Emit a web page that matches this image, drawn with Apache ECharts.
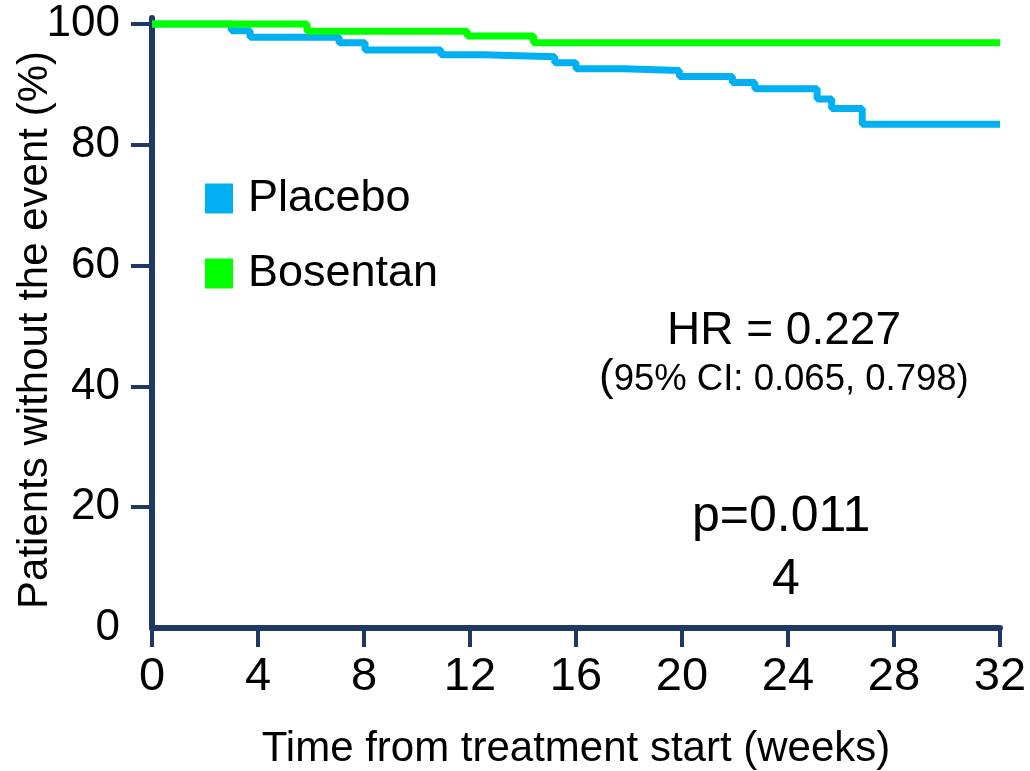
<!DOCTYPE html>
<html>
<head>
<meta charset="utf-8">
<script src="https://cdn.jsdelivr.net/npm/echarts@6/dist/echarts.min.js"></script>
<style>
html,body{margin:0;padding:0;background:#fff;}
#main{width:1030px;height:771px;}
</style>
</head>
<body>
<div id="main"></div>
<script>
// Kaplan-Meier step points: [week, % without event]
const placeboPoints = [[0,100],[3.0,98.9],[3.7,97.8],[7.06,96.9],[8.04,95.7],[10.9,94.9],[12.5,94.6],[15.2,93.6],[16.0,92.6],[17.8,92.3],[19.9,91.3],[21.9,90.3],[22.75,89.3],[25.1,87.6],[25.65,86.0],[26.8,83.4],[32,83.4]];
const bosentanPoints = [[0,100],[5.85,98.8],[11.9,98.0],[14.4,96.9],[32,96.9]];
const seriesNames = ['Placebo','Bosentan'];
const xTicks = [0,4,8,12,16,20,24,28,32];
const yTicks = [0,20,40,60,80,100];
const xTitle = 'Time from treatment start (weeks)';
const yTitle = 'Patients without the event (%)';
const hrText = 'HR = 0.227';
const ciText = '95% CI: 0.065, 0.798';
const pText = 'p=0.011';
const pText2 = '4';

const axisColor = '#1F3864';
const FONT = '"Liberation Sans", Arial, sans-serif';

const chart = echarts.init(document.getElementById('main'));
chart.setOption({
  backgroundColor: '#fff',
  animation: false,
  grid: {left: 152, right: 30, top: 18, bottom: 143, containLabel: false, outerBoundsMode: 'none'},
  legend: {
    data: seriesNames,
    orient: 'vertical',
    left: 200, top: 171,
    icon: 'rect',
    itemWidth: 28, itemHeight: 30,
    itemGap: 30,
    textStyle: {fontFamily: FONT, fontSize: 45, color: '#000', lineHeight: 40, padding: [0,0,0,10]}
  },
  xAxis: {
    type: 'value', min: 0, max: 32, interval: 4,
    name: xTitle, nameLocation: 'middle', nameGap: 100, nameMoveOverlap: false,
    nameTextStyle: {fontFamily: FONT, fontSize: 42, color: '#000'},
    axisLine: {show: true, lineStyle: {color: axisColor, width: 6}},
    axisTick: {show: true, inside: false, length: 19, lineStyle: {color: axisColor, width: 4}},
    axisLabel: {fontFamily: FONT, fontSize: 47, color: '#000', margin: 26},
    splitLine: {show: false}
  },
  yAxis: {
    type: 'value', min: 0, max: 101,
    name: yTitle, nameLocation: 'middle', nameGap: 96, nameRotate: 90, nameMoveOverlap: false,
    nameTextStyle: {fontFamily: FONT, fontSize: 42, color: '#000', padding: [0,14,0,0]},
    axisLine: {show: true, lineStyle: {color: axisColor, width: 6}},
    axisTick: {show: true, inside: false, length: 21, lineStyle: {color: axisColor, width: 4}, customValues: yTicks.slice(1)},
    axisLabel: {fontFamily: FONT, fontSize: 44, color: '#000', margin: 32, customValues: yTicks},
    splitLine: {show: false}
  },
  series: [
    {
      name: seriesNames[0], type: 'line', step: 'end', data: placeboPoints,
      showSymbol: false, symbol: 'none', z: 2,
      itemStyle: {color: '#00B0F0'},
      lineStyle: {color: '#00B0F0', width: 7}
    },
    {
      name: seriesNames[1], type: 'line', step: 'end', data: bosentanPoints,
      showSymbol: false, symbol: 'none', z: 3,
      itemStyle: {color: '#00FF00'},
      lineStyle: {color: '#00FF00', width: 7}
    }
  ],
  graphic: [
    {type: 'text', left: 667, top: 308, style: {text: hrText, font: '46px ' + FONT, fill: '#000'}},
    {type: 'text', left: 599, top: 356, style: {
      text: '{p|(}{t|' + ciText + ')}',
      rich: {
        p: {font: '44px ' + FONT, fill: '#000', verticalAlign: 'bottom'},
        t: {font: '36.5px ' + FONT, fill: '#000', verticalAlign: 'bottom', padding: [0,0,2,0]}
      }
    }},
    {type: 'text', left: 692, top: 492, style: {text: pText, font: '50px ' + FONT, fill: '#000'}},
    {type: 'text', left: 772, top: 555, style: {text: pText2, font: '50px ' + FONT, fill: '#000'}}
  ]
});
</script>
</body>
</html>
